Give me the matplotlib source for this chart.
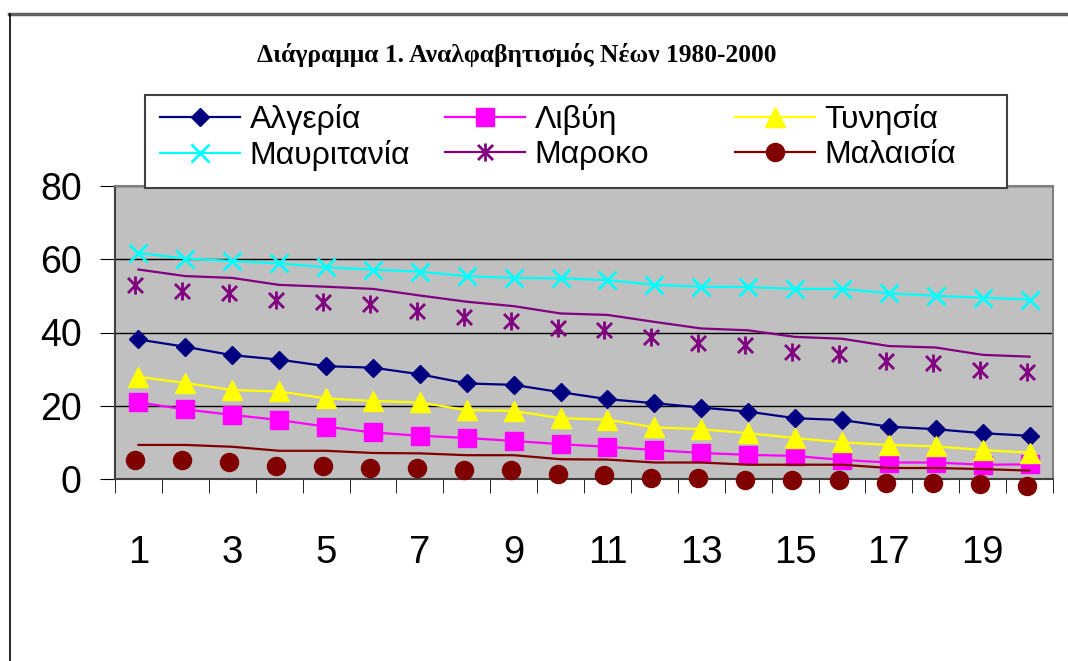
import matplotlib
matplotlib.use("Agg")
import matplotlib.pyplot as plt
import matplotlib.transforms as mtransforms
from matplotlib.path import Path
from matplotlib.patches import Rectangle
from matplotlib.lines import Line2D
import numpy as np

# illiteracy of young people, 1980-2000 (20 points)
years = np.arange(1, 21)
algeria = [38.1, 36.1, 33.8, 32.6, 30.8, 30.4, 28.6, 26.1, 25.7, 23.7,
           21.8, 20.7, 19.5, 18.4, 16.6, 16.1, 14.3, 13.6, 12.5, 11.8]
libya = [20.9, 19.0, 17.5, 16.1, 14.3, 12.7, 11.8, 11.2, 10.4, 9.5,
         8.8, 7.9, 7.1, 6.6, 6.3, 5.2, 4.5, 4.5, 3.9, 4.0]
tunisia = [27.9, 26.2, 24.3, 23.9, 22.0, 21.3, 20.9, 18.8, 18.6, 16.6,
           16.2, 14.1, 13.6, 12.5, 11.2, 10.0, 9.3, 8.9, 7.9, 7.2]
mauritania = [61.7, 60.2, 59.5, 58.9, 57.8, 57.2, 56.6, 55.4, 54.9, 54.8,
              54.3, 53.0, 52.5, 52.4, 51.9, 51.9, 50.7, 50.0, 49.5, 49.0]
morocco = [57.2, 55.4, 54.9, 53.0, 52.5, 51.9, 50.1, 48.4, 47.2, 45.2,
           44.8, 42.9, 41.1, 40.6, 38.8, 38.3, 36.3, 35.9, 33.9, 33.4]
malaysia = [9.3, 9.3, 8.8, 7.7, 7.7, 7.1, 7.0, 6.5, 6.5, 5.4,
            5.3, 4.5, 4.5, 3.9, 3.9, 3.9, 3.0, 3.0, 2.7, 2.3]
yticks = [0, 20, 40, 60, 80]
xlabels = ['1', '3', '5', '7', '9', '11', '13', '15', '17', '19']

plt.rcParams['font.family'] = ['Liberation Sans', 'DejaVu Sans']

W, H = 1068, 661
fig = plt.figure(figsize=(W / 100, H / 100), dpi=100)
ax = fig.add_axes([115 / W, 1 - 479 / H, 938 / W, 293 / H])
ax.set_facecolor('#c0c0c0')

# asterisk marker (x with a vertical bar)
star = Path([(-1, -1), (1, 1), (-1, 1), (1, -1), (0, -1.2), (0, 1.2)],
            [Path.MOVETO, Path.LINETO, Path.MOVETO, Path.LINETO, Path.MOVETO, Path.LINETO])

lw = 1.6
ax.plot(years, algeria, color='#000080', lw=lw, marker='D', ms=9.5, zorder=3)
ax.plot(years, libya, color='#ff00ff', lw=lw, marker='s', ms=13, zorder=3)
ax.plot(years, tunisia, color='#ffff00', lw=lw, marker='^', ms=14, zorder=3)
ax.plot(years, mauritania, color='#00ffff', lw=lw, marker='x', ms=13, mew=2, zorder=3)

# Morocco and Malaysia markers are drawn shifted from their lines
shift = ax.transData + mtransforms.ScaledTranslation(-0.03, -0.15, fig.dpi_scale_trans)
ax.plot(years, morocco, color='#800080', lw=lw, zorder=3)
ax.plot(years, morocco, ls='none', marker=star, ms=13, mew=2, color='#800080',
        transform=shift, zorder=3, clip_on=False)
ax.plot(years, malaysia, color='#800000', lw=lw, zorder=3)
ax.plot(years, malaysia, ls='none', marker='o', ms=13, color='#800000',
        transform=shift, zorder=3, clip_on=False)

ax.set_xlim(0.5, 20.5)
ax.set_ylim(0, 80)
ax.set_yticks(yticks)
ax.tick_params(axis='y', labelsize=27, length=11, pad=13, direction='out')
ax.set_xticks(np.arange(1, 21, 2))
ax.set_xticklabels(xlabels)
ax.set_xticks(np.arange(0.5, 21, 1), minor=True)
ax.tick_params(axis='x', which='major', length=0, labelsize=27.5, pad=40)
ax.tick_params(axis='x', which='minor', length=10, direction='out')
ax.grid(axis='y', color='black', lw=1)
ax.set_axisbelow(True)
for s in ['top', 'right']:
    ax.spines[s].set_color('#808080')
    ax.spines[s].set_linewidth(1.5)
for s in ['left', 'bottom']:
    ax.spines[s].set_color('#404040')
    ax.spines[s].set_linewidth(1.5)

# title
fig.text(517 / W, 1 - 55 / H, 'Διάγραμμα 1. Αναλφαβητισμός Νέων 1980-2000',
         family='Liberation Serif', weight='bold', fontsize=18.4, ha='center', va='center')

# legend box
fig.patches.append(Rectangle((145 / W, 1 - 188 / H), 862 / W, 93 / H, transform=fig.transFigure,
                             facecolor='white', edgecolor='#404040', lw=1.5, zorder=5))
handles = [
    Line2D([], [], color='#000080', lw=lw, marker='D', ms=9.5),
    Line2D([], [], color='#00ffff', lw=lw, marker='x', ms=13, mew=2),
    Line2D([], [], color='#ff00ff', lw=lw, marker='s', ms=13),
    Line2D([], [], color='#800080', lw=lw, marker=star, ms=13, mew=2),
    Line2D([], [], color='#ffff00', lw=lw, marker='^', ms=14),
    Line2D([], [], color='#800000', lw=lw, marker='o', ms=13),
]
labels = ['Αλγερία', 'Μαυριτανία', 'Λιβύη', 'Μαροκο', 'Τυνησία', 'Μαλαισία']
# one legend per column, like the evenly spaced Excel legend
for i, x0 in enumerate([160, 445, 735]):
    leg = fig.legend(handles[2 * i:2 * i + 2], labels[2 * i:2 * i + 2], loc='upper left',
                     bbox_to_anchor=(x0 / W, 1 - 104 / H), frameon=False, fontsize=23,
                     handlelength=2.5, handletextpad=0.3, labelspacing=0.15,
                     borderpad=0, borderaxespad=0)
    leg.set_zorder(6)

# outer frame edges
fig.add_artist(Line2D([9 / W, 1], [1 - 14 / H, 1 - 14 / H], color='#606060', lw=2.5, transform=fig.transFigure))
fig.add_artist(Line2D([9.5 / W, 9.5 / W], [0, 1 - 14 / H], color='black', lw=1.2, transform=fig.transFigure))

fig.savefig('out.png', dpi=100)
